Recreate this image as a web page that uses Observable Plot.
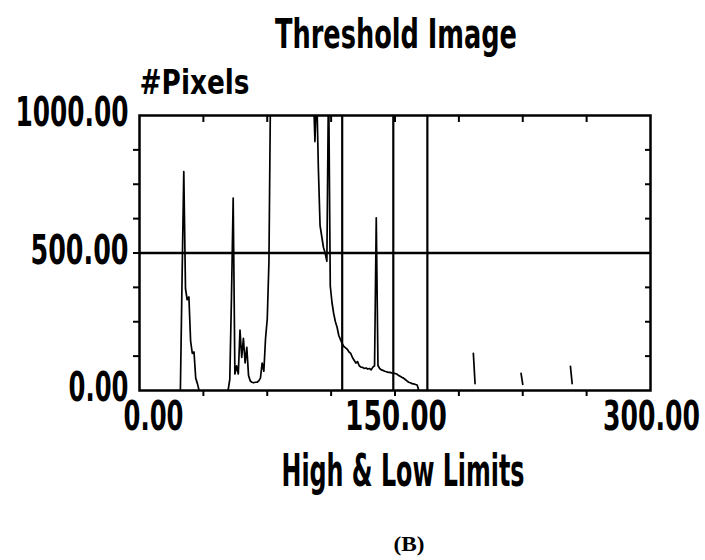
<!DOCTYPE html>
<html>
<head>
<meta charset="utf-8">
<script src="https://cdn.jsdelivr.net/npm/d3@7"></script>
<script src="https://cdn.jsdelivr.net/npm/@observablehq/plot@0.6"></script>
<style>
  html, body { margin: 0; padding: 0; background: #fff; }
  #chart svg { display: block; }
</style>
</head>
<body>
<div id="chart"></div>
<script>
// ---- data ----
const titleText = "Threshold Image";
const yLabelText = "#Pixels";
const xLabelText = "High & Low Limits";
const captionText = "(B)";

const xTicks = [0, 150, 300];
const yTicks = [0, 500, 1000];
const xMinorTicks = [37.5, 75, 112.5, 150, 187.5, 225, 262.5];
const yMinorTicks = [125, 250, 375, 500, 625, 750, 875];

const limitLines = [119, 149, 169];
const levelLine = [500];

// histogram bins (grey level) and pixel counts; null = gap in the trace
const bins = [
  24, 25, 26, 27, 28, 29, 30, 31, 32, 33, 34, 35, 36,
  52, 53, 54, 55, 56, 57, 58, 59, 60, 61, 62, 63, 64, 65, 66, 67, 68, 69, 70, 71, 72, 73, 74, 75, 76, 77, 78,
  102, 103, 104, 105, 106, 107, 108, 109, 110, 111, 112, 113, 114, 115, 116, 117, 118, 119, 120,
  121, 122, 123, 124, 125, 126, 127, 128, 129, 130, 131, 132, 133, 134, 135, 136, 137, 138, 139, 140,
  141, 142, 143, 144, 145, 146, 147, 148, 149, 150, 151, 152, 153, 154, 155, 156, 157, 158, 159, 160,
  161, 162, 163, 164, 165,
  196, 197, 198,
  224, 225, 226,
  253, 254
];
const counts = [
  0, 410, 796, 370, 330, 340, 180, 135, 140, 45, 25, 0, null,
  0, 40, 340, 700, 60, 90, 60, 220, 120, 190, 100, 157, 55, 35, 30, 28, 30, 30, 35, 45, 100, 70, 190, 260, 470, 1150, null,
  1100, 905, 1100, 810, 600, 560, 520, 500, 470, 1150, 380, 320, 280, 250, 230, 200, 185, 170, 160,
  155, 150, 140, 135, 120, 110, 100, 105, 90, 85, 84, 80, 82, 78, 80, 75, 85, 90, 628, 91,
  80, 75, 73, 70, 68, 66, 66, 64, 62, 62, 60, 55, 52, 48, 45, 40, 35, 30, 28, 25,
  24, 22, 20, 0, null,
  135, 25, null,
  62, 22, null,
  88, 25
];

const hist = bins.map((b, i) => ({bin: b, count: counts[i]}));

// ---- styling: rendered text widths (px) to mimic the condensed typeface ----
const textWidths = new Map([
  [titleText, 242], [yLabelText, 110], [xLabelText, 243], [captionText, 31],
  ["1000.00", 113], ["500.00", 98], ["0.00", 60], ["150.00", 102], ["300.00", 97]
]);

const font = "'DejaVu Sans Condensed', 'DejaVu Sans', sans-serif";
const fmt = d => d.toFixed(2);

const chart = Plot.plot({
  width: 705,
  height: 560,
  marginLeft: 139,
  marginRight: 55,
  marginTop: 115,
  marginBottom: 170,
  x: {domain: [0, 300]},
  y: {domain: [0, 1000]},
  style: {fontFamily: font, background: "#fff", color: "#000"},
  marks: [
    Plot.line(hist, {x: "bin", y: "count", stroke: "#000", strokeWidth: 1.7, clip: true}),
    Plot.ruleY(levelLine, {stroke: "#000", strokeWidth: 2.5}),
    Plot.ruleX(limitLines, {stroke: "#000", strokeWidth: 2.2}),
    Plot.frame({stroke: "#000", strokeWidth: 2.5}),
    // minor ticks
    Plot.axisX(xMinorTicks, {anchor: "bottom", tickSize: 6, tickFormat: () => "", strokeWidth: 2, label: null}),
    Plot.axisX(xMinorTicks, {anchor: "top", tickSize: 6, dy: 6, tickFormat: () => "", strokeWidth: 2, label: null}),
    Plot.axisY(yMinorTicks, {anchor: "left", tickSize: 6, tickFormat: () => "", strokeWidth: 2, label: null}),
    Plot.axisY(yMinorTicks, {anchor: "right", tickSize: 6, dx: -6, tickFormat: () => "", strokeWidth: 2, label: null}),
    // major tick labels
    Plot.axisY(yTicks, {anchor: "left", tickSize: 0, tickPadding: 11, dy: -2,
      tickFormat: fmt, fontSize: 40, fontWeight: "bold", label: null}),
    Plot.axisX(xTicks.slice(0, 1), {anchor: "bottom", tickSize: 0, tickPadding: 11, dx: 14,
      tickFormat: fmt, fontSize: 40, fontWeight: "bold", label: null}),
    Plot.axisX(xTicks.slice(1), {anchor: "bottom", tickSize: 0, tickPadding: 11, dx: 1,
      tickFormat: fmt, fontSize: 40, fontWeight: "bold", label: null}),
    // titles
    Plot.text([titleText], {text: d => d, frameAnchor: "top", lineAnchor: "bottom", dy: -68, dx: 1,
      fontSize: 41, fontWeight: "bold"}),
    Plot.text([yLabelText], {text: d => d, frameAnchor: "top-left", textAnchor: "start", lineAnchor: "bottom",
      dy: -22, fontSize: 34, fontWeight: "bold"}),
    Plot.text([xLabelText], {text: d => d, frameAnchor: "bottom", lineAnchor: "bottom", dy: 95, dx: 8,
      fontSize: 44, fontWeight: "bold"}),
    Plot.text([captionText], {text: d => d, frameAnchor: "bottom", lineAnchor: "bottom", dy: 160, dx: 14,
      fontSize: 20, fontWeight: "bold", fontFamily: "'Liberation Serif', serif"})
  ]
});

// squeeze each text to the reference's condensed width
d3.select(chart).selectAll("text").each(function () {
  const w = textWidths.get(this.textContent);
  if (w) {
    this.setAttribute("textLength", w);
    this.setAttribute("lengthAdjust", "spacingAndGlyphs");
  }
});

document.getElementById("chart").appendChild(chart);
</script>
</body>
</html>
